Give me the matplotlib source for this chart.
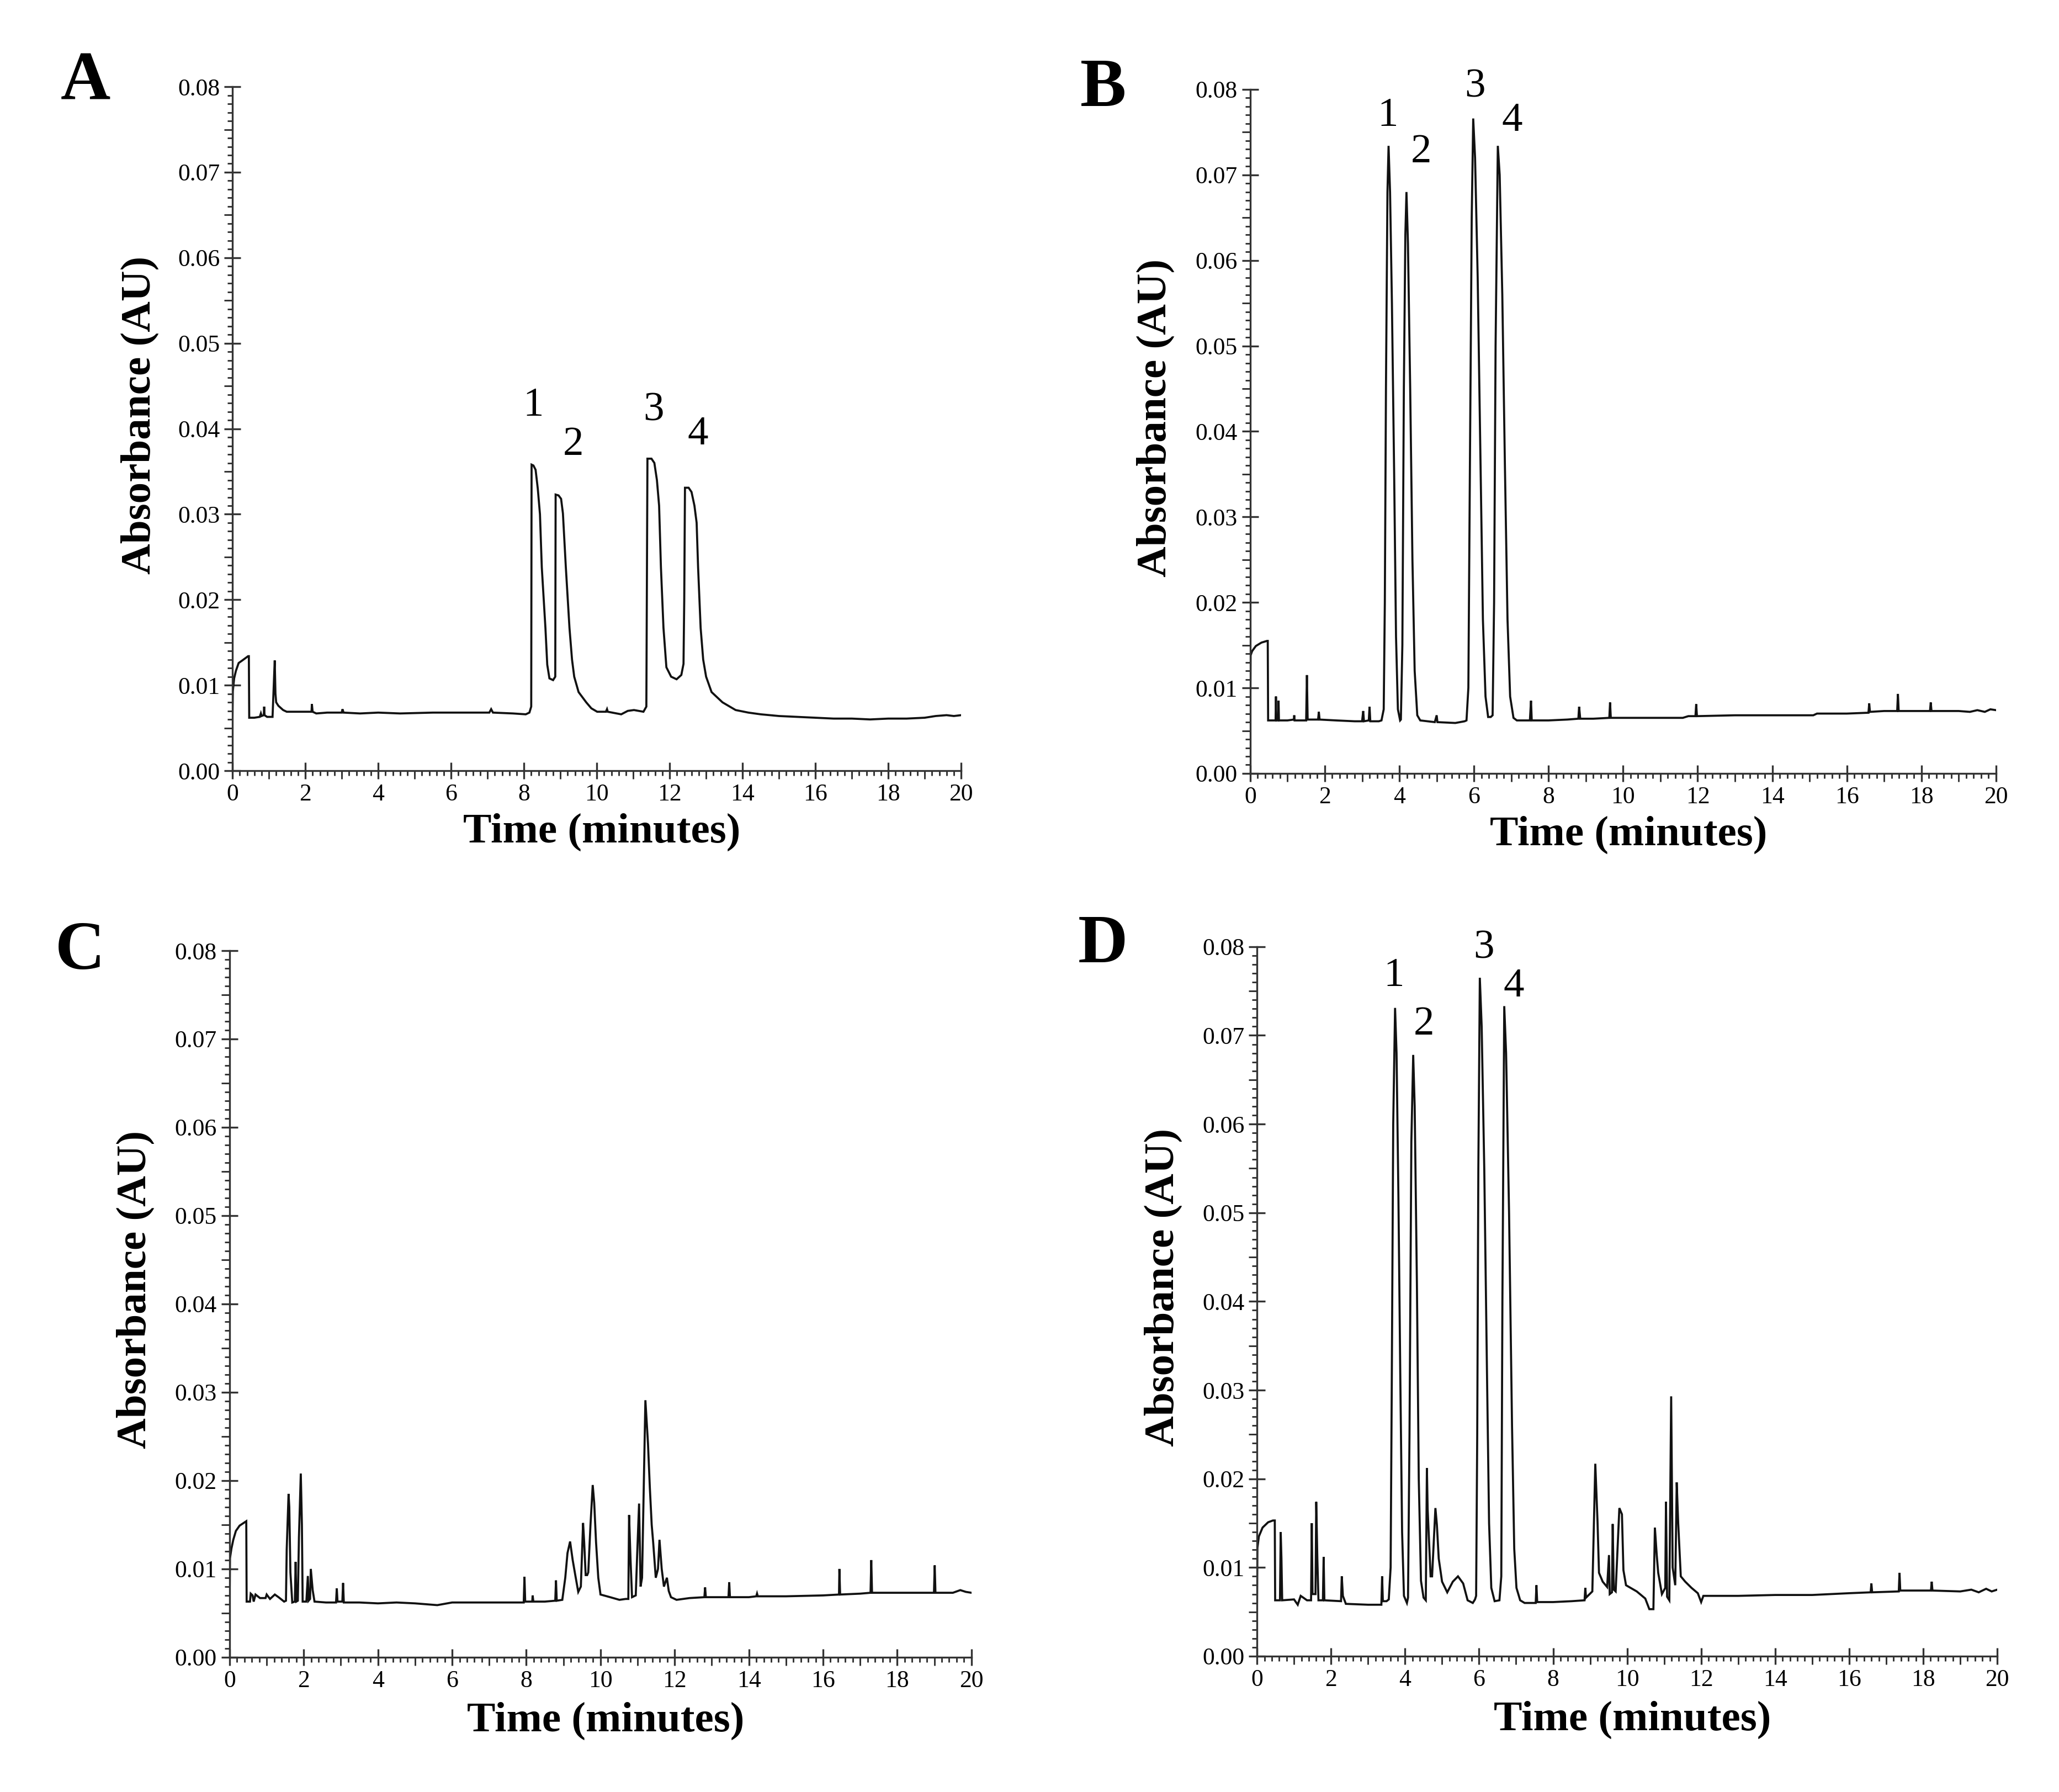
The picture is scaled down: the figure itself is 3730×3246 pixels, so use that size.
import numpy as np
import matplotlib
matplotlib.use("Agg")
import matplotlib.pyplot as plt
from matplotlib.ticker import MultipleLocator, FormatStrFormatter


# ==============================================================================
# 1. Chromatogram traces (time in minutes, absorbance in AU)
# ==============================================================================

# A: standard mixture, slower gradient
time_a = [0.00, 0.01, 0.046, 0.096, 0.17, 0.27, 0.43, 0.45, 0.46, 0.60, 0.75, 0.78,
          0.80, 0.86, 0.87, 0.88, 0.95, 1.10, 1.12, 1.16, 1.18, 1.20, 1.26, 1.39,
          1.49, 1.80, 2.17, 2.18, 2.20, 2.30, 2.60, 3.00, 3.02, 3.05, 3.50, 4.00,
          4.60, 5.50, 6.50, 7.05, 7.10, 7.15, 7.70, 8.05, 8.15, 8.20, 8.21, 8.26,
          8.32, 8.38, 8.44, 8.49, 8.59, 8.64, 8.70, 8.80, 8.86, 8.87, 8.95, 9.02,
          9.07, 9.15, 9.25, 9.32, 9.38, 9.50, 9.71, 9.85, 10.01, 10.25, 10.28, 10.30,
          10.67, 10.85, 11.02, 11.28, 11.36, 11.39, 11.50, 11.58, 11.65, 11.71, 11.76,
          11.83, 11.91, 12.04, 12.19, 12.32, 12.38, 12.40, 12.42, 12.52, 12.60, 12.68,
          12.74, 12.78, 12.85, 12.92, 13.00, 13.15, 13.45, 13.81, 14.16, 14.50, 15.00,
          15.50, 16.00, 16.50, 17.00, 17.50, 18.00, 18.50, 19.00, 19.30, 19.60, 19.80,
          20.00]
abs_a = [0.0062, 0.0093, 0.0108, 0.0117, 0.0126, 0.0129, 0.0134, 0.0134, 0.0062, 0.0062,
         0.0063, 0.0067, 0.0064, 0.0065, 0.0075, 0.0065, 0.0063, 0.0063, 0.0085, 0.0129,
         0.0090, 0.0080, 0.0076, 0.0071, 0.0069, 0.0069, 0.0069, 0.0078, 0.0069, 0.0067,
         0.0068, 0.0068, 0.0072, 0.0068, 0.0067, 0.0068, 0.0067, 0.0068, 0.0068, 0.0068,
         0.0072, 0.0068, 0.0067, 0.0066, 0.0068, 0.0075, 0.0358, 0.0357, 0.0352, 0.0330,
         0.0300, 0.0238, 0.0167, 0.0124, 0.0108, 0.0106, 0.0110, 0.0323, 0.0322, 0.0318,
         0.0301, 0.0238, 0.0167, 0.0130, 0.0110, 0.0092, 0.0080, 0.0073, 0.0069, 0.0069,
         0.0072, 0.0069, 0.0066, 0.0070, 0.0071, 0.0069, 0.0075, 0.0365, 0.0365, 0.0360,
         0.0340, 0.0310, 0.0238, 0.0167, 0.0121, 0.0110, 0.0107, 0.0112, 0.0125, 0.0200,
         0.0331, 0.0331, 0.0326, 0.0310, 0.0290, 0.0238, 0.0167, 0.0130, 0.0110, 0.0092,
         0.0080, 0.0071, 0.0068, 0.0066, 0.0064, 0.0063, 0.0062, 0.0061, 0.0061, 0.0060,
         0.0061, 0.0061, 0.0062, 0.0064, 0.0065, 0.0064, 0.0065]

# B: standard mixture, optimised conditions
time_b = [0.00, 0.01, 0.05, 0.15, 0.30, 0.45, 0.47, 0.48, 0.60, 0.68, 0.69, 0.70, 0.75,
          0.76, 0.77, 1.00, 1.17, 1.18, 1.19, 1.50, 1.52, 1.54, 1.82, 1.84, 1.86, 2.30,
          2.80, 3.00, 3.03, 3.05, 3.18, 3.20, 3.22, 3.45,
          3.52, 3.58, 3.61, 3.64, 3.68, 3.71, 3.75, 3.80, 3.86, 3.91, 3.96, 4.02,
          4.04, 4.08, 4.12, 4.16, 4.19, 4.23, 4.29, 4.35, 4.41, 4.48, 4.56,
          4.95, 5.00, 5.02, 5.50, 5.75,
          5.80, 5.85, 5.89, 5.94, 5.98, 6.03, 6.10, 6.17, 6.24, 6.31, 6.38, 6.45,
          6.50, 6.54, 6.58, 6.64, 6.69, 6.76, 6.83, 6.90, 6.97, 7.06, 7.15,
          7.50, 7.53, 7.55, 8.00, 8.50, 8.80, 8.82, 8.85, 9.20, 9.63, 9.65, 9.67, 10.50,
          11.00, 11.60, 11.75, 11.94, 11.96, 11.98, 13.00, 14.00, 15.10, 15.20, 16.00,
          16.58, 16.60, 16.62, 17.00, 17.35, 17.37, 17.39, 18.23, 18.25, 18.27, 19.00,
          19.30, 19.50, 19.70, 19.85, 20.00]
abs_b = [0.0061, 0.0138, 0.0143, 0.0149, 0.0153, 0.0155, 0.0155, 0.0062, 0.0062, 0.0062,
         0.0090, 0.0062, 0.0062, 0.0085, 0.0062, 0.0062, 0.0063, 0.0068, 0.0062, 0.0062,
         0.0115, 0.0063, 0.0063, 0.0072, 0.0063, 0.0062, 0.0061, 0.0061, 0.0073, 0.0061,
         0.0062, 0.0078, 0.0061, 0.0061,
         0.0062, 0.0075, 0.0200, 0.0450, 0.0680, 0.0734, 0.0680, 0.0550, 0.0350, 0.0160,
         0.0075, 0.0062,
         0.0063, 0.0150, 0.0450, 0.0630, 0.0680, 0.0620, 0.0450, 0.0250, 0.0120, 0.0068,
         0.0062,
         0.0060, 0.0068, 0.0060, 0.0059, 0.0061,
         0.0062, 0.0100, 0.0350, 0.0650, 0.0766, 0.0720, 0.0580, 0.0380, 0.0180, 0.0090,
         0.0066, 0.0066,
         0.0068, 0.0200, 0.0500, 0.0734, 0.0700, 0.0560, 0.0360, 0.0180, 0.0090, 0.0065,
         0.0062,
         0.0062, 0.0085, 0.0062, 0.0062, 0.0063, 0.0064, 0.0078, 0.0064, 0.0064, 0.0065,
         0.0083, 0.0065, 0.0065, 0.0065, 0.0065, 0.0067, 0.0067, 0.0081, 0.0067, 0.0068,
         0.0068, 0.0068, 0.0070, 0.0070, 0.0071, 0.0082, 0.0072, 0.0073, 0.0073, 0.0093,
         0.0073, 0.0073, 0.0083, 0.0073, 0.0073, 0.0072, 0.0074, 0.0072, 0.0075, 0.0074]

# C: blank sample matrix
time_c = [0.00, 0.01, 0.05, 0.10, 0.17, 0.27, 0.45, 0.46, 0.55, 0.57, 0.62, 0.65, 0.70,
          0.82, 0.97, 1.00, 1.09, 1.22, 1.32, 1.47, 1.52, 1.54, 1.59, 1.61, 1.64, 1.69,
          1.76, 1.78, 1.80, 1.84, 1.87, 1.92, 1.95, 1.97, 2.07, 2.11, 2.13, 2.17, 2.19,
          2.24, 2.29, 2.60, 2.87, 2.89, 2.91, 3.04, 3.06, 3.08, 3.50, 4.00, 4.50, 5.00,
          5.60, 6.00, 6.50, 7.00, 7.50, 7.93, 7.95, 7.97, 8.16, 8.17, 8.19, 8.50, 8.78,
          8.80, 8.82, 8.97, 9.05, 9.11, 9.18, 9.25, 9.32, 9.40, 9.47, 9.53, 9.56, 9.60,
          9.64, 9.67, 9.73, 9.79, 9.83, 9.88, 9.94, 10.00, 10.26, 10.51, 10.68, 10.75,
          10.77, 10.81, 10.85, 10.95, 10.99, 11.04, 11.08, 11.12, 11.21, 11.28, 11.33,
          11.38, 11.42, 11.49, 11.55, 11.59, 11.65, 11.71, 11.79, 11.84, 11.90, 12.05,
          12.40, 12.80, 12.82, 12.84, 13.45, 13.47, 13.49, 14.00, 14.20, 14.22, 14.24,
          15.00, 16.00, 16.43, 16.44, 16.46, 17.00, 17.28, 17.30, 17.32, 18.00, 18.99,
          19.01, 19.03, 19.50, 19.70, 19.85, 20.00]
abs_c = [0.0061, 0.0112, 0.0123, 0.0133, 0.0143, 0.0149, 0.0154, 0.0063, 0.0063, 0.0072,
         0.0070, 0.0063, 0.0071, 0.0067, 0.0067, 0.0071, 0.0066, 0.0071, 0.0068, 0.0063,
         0.0064, 0.0122, 0.0185, 0.0170, 0.0096, 0.0062, 0.0063, 0.0108, 0.0063, 0.0064,
         0.0136, 0.0208, 0.0150, 0.0063, 0.0063, 0.0092, 0.0064, 0.0066, 0.0100, 0.0076,
         0.0063, 0.0062, 0.0062, 0.0078, 0.0063, 0.0063, 0.0084, 0.0062, 0.0062, 0.0061,
         0.0062, 0.0061, 0.0059, 0.0062, 0.0062, 0.0062, 0.0062, 0.0062, 0.0091, 0.0063,
         0.0063, 0.0070, 0.0063, 0.0063, 0.0064, 0.0087, 0.0064, 0.0065, 0.0090, 0.0118,
         0.0131, 0.0110, 0.0093, 0.0074, 0.0080, 0.0152, 0.0130, 0.0093, 0.0093, 0.0096,
         0.0150, 0.0195, 0.0175, 0.0130, 0.0090, 0.0071, 0.0068, 0.0065, 0.0066, 0.0066,
         0.0161, 0.0110, 0.0068, 0.0070, 0.0118, 0.0174, 0.0080, 0.0090, 0.0291, 0.0242,
         0.0192, 0.0150, 0.0130, 0.0090, 0.0100, 0.0133, 0.0100, 0.0080, 0.0090, 0.0075,
         0.0068, 0.0065, 0.0067, 0.0068, 0.0079, 0.0068, 0.0068, 0.0085, 0.0068, 0.0068,
         0.0069, 0.0072, 0.0069, 0.0069, 0.0070, 0.0071, 0.0100, 0.0071, 0.0072, 0.0073,
         0.0110, 0.0073, 0.0073, 0.0073, 0.0104, 0.0073, 0.0073, 0.0076, 0.0074, 0.0073]

# D: spiked sample
time_d = [0.00, 0.01, 0.05, 0.15, 0.30, 0.43, 0.48, 0.49, 0.62, 0.64, 0.66, 0.68, 1.00,
          1.10, 1.18, 1.25, 1.35, 1.46, 1.48, 1.50, 1.58, 1.60, 1.63, 1.66, 1.78, 1.80,
          1.82, 2.27, 2.29, 2.32, 2.40, 3.00, 3.36, 3.38, 3.40, 3.50,
          3.56, 3.61, 3.64, 3.68, 3.73, 3.77, 3.82, 3.87, 3.92, 3.97, 4.05,
          4.08, 4.12, 4.17, 4.22, 4.26, 4.32, 4.37, 4.43, 4.50, 4.56,
          4.59, 4.61, 4.69, 4.73, 4.82, 4.86, 4.91, 5.00, 5.14, 5.29, 5.43, 5.57, 5.69,
          5.83, 5.89,
          5.92, 5.95, 5.98, 6.02, 6.07, 6.14, 6.21, 6.27, 6.33, 6.42, 6.55,
          6.60, 6.63, 6.68, 6.73, 6.81, 6.89, 6.95, 7.01, 7.11, 7.23,
          7.53, 7.55, 7.57, 8.00, 8.50, 8.85, 8.87, 8.89, 9.06, 9.14, 9.20, 9.24, 9.34,
          9.46, 9.51, 9.53, 9.59, 9.61, 9.64, 9.69, 9.74, 9.79, 9.86, 9.90, 9.97, 10.26,
          10.49, 10.60, 10.71, 10.75, 10.80, 10.84, 10.94, 11.03, 11.05, 11.08, 11.14,
          11.19, 11.23, 11.30, 11.34, 11.38, 11.45, 11.57, 11.74, 11.91, 12.00, 12.06,
          13.00, 14.00, 15.00, 16.00, 16.58, 16.60, 16.62, 17.34, 17.36, 17.38, 18.21,
          18.23, 18.25, 19.00, 19.30, 19.50, 19.70, 19.85, 20.00]
abs_d = [0.0060, 0.0122, 0.0135, 0.0145, 0.0151, 0.0153, 0.0153, 0.0063, 0.0063, 0.0140,
         0.0110, 0.0063, 0.0064, 0.0058, 0.0068, 0.0066, 0.0063, 0.0063, 0.0150, 0.0070,
         0.0070, 0.0174, 0.0110, 0.0063, 0.0063, 0.0112, 0.0063, 0.0062, 0.0090, 0.0068,
         0.0059, 0.0058, 0.0058, 0.0090, 0.0062, 0.0062,
         0.0064, 0.0100, 0.0300, 0.0600, 0.0731, 0.0680, 0.0520, 0.0320, 0.0140, 0.0068,
         0.0060,
         0.0066, 0.0250, 0.0580, 0.0678, 0.0620, 0.0420, 0.0200, 0.0085, 0.0066, 0.0063,
         0.0212, 0.0166, 0.0090, 0.0090, 0.0167, 0.0148, 0.0110, 0.0084, 0.0072, 0.0084,
         0.0090, 0.0082, 0.0063, 0.0060, 0.0064,
         0.0068, 0.0250, 0.0550, 0.0765, 0.0710, 0.0550, 0.0330, 0.0150, 0.0077, 0.0062,
         0.0063,
         0.0090, 0.0400, 0.0733, 0.0680, 0.0500, 0.0260, 0.0121, 0.0077, 0.0063, 0.0060,
         0.0060, 0.0080, 0.0061, 0.0061, 0.0062, 0.0063, 0.0077, 0.0066, 0.0073, 0.0217,
         0.0152, 0.0094, 0.0084, 0.0078, 0.0114, 0.0070, 0.0072, 0.0149, 0.0075, 0.0073,
         0.0120, 0.0167, 0.0160, 0.0097, 0.0080, 0.0073, 0.0065, 0.0053, 0.0053, 0.0145,
         0.0114, 0.0094, 0.0070, 0.0077, 0.0174, 0.0067, 0.0063, 0.0293, 0.0100, 0.0080,
         0.0196, 0.0150, 0.0090, 0.0084, 0.0077, 0.0071, 0.0061, 0.0068, 0.0068, 0.0069,
         0.0069, 0.0071, 0.0072, 0.0082, 0.0072, 0.0073, 0.0094, 0.0074, 0.0074, 0.0084,
         0.0074, 0.0073, 0.0075, 0.0072, 0.0076, 0.0073, 0.0075]

# Peak numbers: (label, time, absorbance) of each annotation
peak_labels = ["1", "2", "3", "4"]
label_t_a = [8.25, 9.35, 11.56, 12.78]
label_y_a = [0.0427, 0.0381, 0.0421, 0.0393]
label_t_b = [3.69, 4.58, 6.02, 7.02]
label_y_b = [0.0769, 0.0726, 0.0803, 0.0763]
label_t_d = [3.70, 4.51, 6.13, 6.94]
label_y_d = [0.0767, 0.0712, 0.0798, 0.0755]


# ==============================================================================
# 2. Plotting configuration
# ==============================================================================

plt.rcParams["font.family"] = "serif"
plt.rcParams["font.serif"] = ["Liberation Serif", "DejaVu Serif"]

fs_tick = 10.5
fs_label = 18.5
fs_peak = 18
fs_panel = 30
color_line = "#111111"
color_axis = "#333333"

# axes rectangles in figure fraction (left, bottom, width, height)
panel_pos = {
    "A": [0.1129, 0.5699, 0.3539, 0.3817],
    "B": [0.6072, 0.5684, 0.3622, 0.3817],
    "C": [0.1115, 0.0752, 0.3603, 0.3943],
    "D": [0.6105, 0.0758, 0.3595, 0.3959],
}
letter_pos = {
    "A": (0.0415, 0.9538),
    "B": (0.5357, 0.9500),
    "C": (0.0389, 0.4686),
    "D": (0.5357, 0.4723),
}


# ==============================================================================
# 3. Plotting function
# ==============================================================================

def draw_panel(fig, key, t, a, lab_t=None, lab_y=None):
    ax = fig.add_axes(panel_pos[key])
    ax.plot(t, a, color=color_line, linewidth=0.9, solid_joinstyle="miter")

    ax.set_xlim(0, 20)
    ax.set_ylim(0, 0.08)
    for side in ["top", "right"]:
        ax.spines[side].set_visible(False)
    for side in ["left", "bottom"]:
        ax.spines[side].set_color(color_axis)
        ax.spines[side].set_linewidth(0.8)

    ax.xaxis.set_major_locator(MultipleLocator(2))
    ax.xaxis.set_minor_locator(MultipleLocator(0.2))
    ax.yaxis.set_major_locator(MultipleLocator(0.01))
    ax.yaxis.set_minor_locator(MultipleLocator(0.001))
    ax.yaxis.set_major_formatter(FormatStrFormatter("%.2f"))
    ax.tick_params(which="major", direction="inout", length=7, width=0.8,
                   color=color_axis, labelsize=fs_tick, pad=2)
    ax.tick_params(which="minor", direction="out", length=2.2, width=0.7,
                   color=color_axis)

    # half-interval ticks are a bit longer than the other minor ticks
    sx = ax.secondary_xaxis("bottom")
    sx.set_xticks(np.arange(1, 20, 2))
    sx.tick_params(direction="out", length=3.5, width=0.7, color=color_axis,
                   labelbottom=False)
    sx.spines["bottom"].set_visible(False)
    sy = ax.secondary_yaxis("left")
    sy.set_yticks(np.arange(0.005, 0.08, 0.01))
    sy.tick_params(direction="out", length=3.5, width=0.7, color=color_axis,
                   labelleft=False)
    sy.spines["left"].set_visible(False)

    ax.set_ylabel("Absorbance (AU)", fontsize=fs_label, fontweight="bold", va="center")
    ax.yaxis.set_label_coords(-0.127, 0.52)
    ax.set_xlabel("Time (minutes)", fontsize=fs_label, fontweight="bold", va="center")
    ax.xaxis.set_label_coords(0.507, -0.09)

    if lab_t is not None:
        for s, x, y in zip(peak_labels, lab_t, lab_y):
            ax.text(x, y, s, fontsize=fs_peak, ha="center", va="center", clip_on=False)

    lx, ly = letter_pos[key]
    fig.text(lx, ly, key, fontsize=fs_panel, fontweight="bold", ha="center", va="center")
    return ax


# ==============================================================================
# 4. Create figure
# ==============================================================================

fig = plt.figure(figsize=(3730 / 300, 3246 / 300), dpi=300)

draw_panel(fig, "A", time_a, abs_a, label_t_a, label_y_a)
draw_panel(fig, "B", time_b, abs_b, label_t_b, label_y_b)
draw_panel(fig, "C", time_c, abs_c)
draw_panel(fig, "D", time_d, abs_d, label_t_d, label_y_d)

fig.savefig("out.png", dpi=300)
